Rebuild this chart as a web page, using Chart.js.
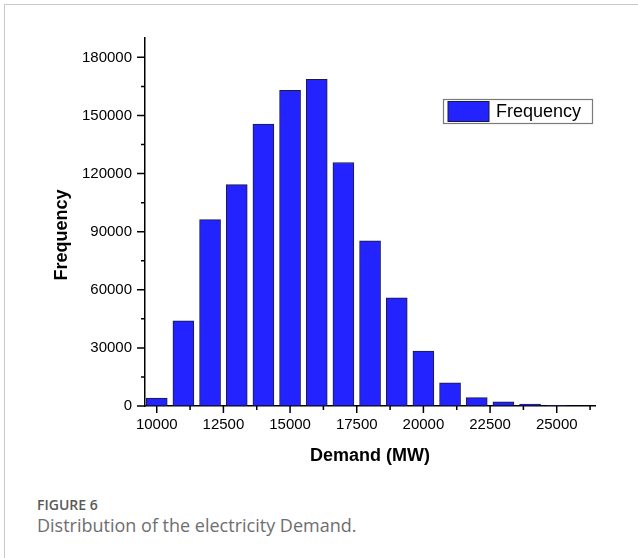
<!DOCTYPE html>
<html>
<head>
<meta charset="utf-8">
<script src="https://cdn.jsdelivr.net/npm/chart.js@4.4.1/dist/chart.umd.min.js"></script>
<style>
  html, body { margin: 0; padding: 0; background: #fff; }
  body { width: 638px; height: 558px; position: relative; overflow: hidden; }
  #frame { position: absolute; left: 4px; top: 4px; width: 634px; height: 554px;
           border-top: 1px solid #c9c9c9; border-left: 1px solid #c9c9c9; box-sizing: border-box; }
  #plot { position: absolute; left: 0; top: 0; }
  #caption { position: absolute; left: 37px; top: 496px; font-family: "Open Sans", sans-serif; color: #666; }
  #caption .num { font-size: 14px; font-weight: 600; color: #5a5a5a; line-height: 18px; }
  #caption .txt { font-size: 18px; line-height: 22px; color: #6e6e6e; }
</style>
</head>
<body>
<div id="frame"></div>
<canvas id="plot" width="638" height="480"></canvas>
<div id="caption">
  <div class="num">FIGURE 6</div>
  <div class="txt">Distribution of the electricity Demand.</div>
</div>
<script>
// Histogram bins (MW, bin centre) and counts
const binCenters = [10000, 11000, 12000, 13000, 14000, 15000, 16000, 17000,
                    18000, 19000, 20000, 21000, 22000, 23000, 24000, 25000];
const frequency  = [4100, 44000, 96200, 114300, 145500, 163000, 168600, 125700,
                    85300, 55900, 28400, 11900, 4300, 2200, 1000, 300];
const seriesLabel = 'Frequency';
const xTitle = 'Demand (MW)';
const yTitle = 'Frequency';

// Axis ranges and tick spacing (labelled ticks every second step)
const xRange = [9560, 26435];
const yRange = [0, 190000];
const xTickStep = 1250;   // labels every 2500
const yTickStep = 15000;  // labels every 30000

const BAR_FILL = '#2323ff';
const BAR_EDGE = '#1b1b3a';
const FONT = '"Liberation Sans", Arial, sans-serif';

function stepTicks(scale, step) {
  const ticks = [];
  for (let v = Math.ceil(scale.min / step) * step; v <= scale.max; v += step) ticks.push({ value: v });
  scale.ticks = ticks;
}

// Short/long outward tick marks on both axes
const tickMarks = {
  id: 'tickMarks',
  afterDraw(chart) {
    const { ctx } = chart;
    const xs = chart.scales.x, ys = chart.scales.y;
    ctx.save();
    ctx.strokeStyle = '#000';
    ctx.lineWidth = 1.5;
    ctx.beginPath();
    ys.ticks.forEach(t => {
      const py = ys.getPixelForValue(t.value);
      const len = t.value % (2 * yTickStep) === 0 ? 8 : 4;
      ctx.moveTo(ys.right - len, py);
      ctx.lineTo(ys.right, py);
    });
    xs.ticks.forEach(t => {
      const px = xs.getPixelForValue(t.value);
      const len = t.value % (2 * xTickStep) === 0 ? 7 : 4;
      ctx.moveTo(px, xs.top);
      ctx.lineTo(px, xs.top + len);
    });
    ctx.stroke();
    ctx.restore();
  }
};

// Rotated y-axis title, centred a little below the middle of the axis
const yAxisTitle = {
  id: 'yAxisTitle',
  afterDraw(chart) {
    const { ctx } = chart;
    const ys = chart.scales.y;
    ctx.save();
    ctx.translate(62, (ys.top + ys.bottom) / 2 + 13);
    ctx.rotate(-Math.PI / 2);
    ctx.fillStyle = '#000';
    ctx.font = 'bold 18px ' + FONT;
    ctx.textAlign = 'center';
    ctx.textBaseline = 'middle';
    ctx.fillText(yTitle, 0, 0);
    ctx.restore();
  }
};

// Boxed legend in the upper right of the plot area
const boxedLegend = {
  id: 'boxedLegend',
  afterDraw(chart) {
    const { ctx, chartArea } = chart;
    const ds = chart.data.datasets[0];
    const w = 149, h = 24;
    const x = chartArea.right - 3 - w;
    const y = chartArea.top + 61;
    ctx.save();
    ctx.fillStyle = '#fff';
    ctx.fillRect(x, y, w, h);
    ctx.strokeStyle = '#7a7a7a';
    ctx.lineWidth = 1.2;
    ctx.strokeRect(x + 0.5, y + 0.5, w, h);
    ctx.fillStyle = ds.backgroundColor;
    ctx.fillRect(x + 5, y + 2.5, 41, 20);
    ctx.strokeStyle = ds.borderColor;
    ctx.lineWidth = 1;
    ctx.strokeRect(x + 5, y + 2.5, 41, 20);
    ctx.fillStyle = '#000';
    ctx.font = '18px ' + FONT;
    ctx.textBaseline = 'middle';
    ctx.fillText(ds.label, x + 53, y + h / 2 + 1);
    ctx.restore();
  }
};

new Chart(document.getElementById('plot'), {
  type: 'bar',
  data: {
    datasets: [{
      label: seriesLabel,
      data: binCenters.map((c, i) => ({ x: c, y: frequency[i] })),
      backgroundColor: BAR_FILL,
      borderColor: BAR_EDGE,
      borderWidth: 1,
      barThickness: 21
    }]
  },
  options: {
    responsive: false,
    animation: false,
    devicePixelRatio: 1,
    layout: { padding: { left: 0, top: 38, right: 43, bottom: 4 } },
    plugins: { legend: { display: false }, tooltip: { enabled: false } },
    scales: {
      x: {
        type: 'linear',
        offset: false,
        min: xRange[0],
        max: xRange[1],
        afterBuildTicks(scale) { stepTicks(scale, xTickStep); },
        afterFit(scale) { scale.height = 70; },
        ticks: {
          autoSkip: false,
          maxRotation: 0,
          padding: 10,
          color: '#000',
          font: { family: FONT, size: 15 },
          callback: v => (v % (2 * xTickStep) === 0 ? String(v) : '')
        },
        grid: { display: true, drawOnChartArea: false, drawTicks: false, offset: false },
        border: { display: true, color: '#000', width: 1.5 },
        title: {
          display: true, text: xTitle, color: '#000',
          font: { family: FONT, size: 18, weight: 'bold' },
          padding: { top: 0, bottom: 9 }
        }
      },
      y: {
        min: yRange[0],
        max: yRange[1],
        afterBuildTicks(scale) { stepTicks(scale, yTickStep); },
        afterFit(scale) { scale.width = 145; },
        ticks: {
          autoSkip: false,
          padding: 13,
          color: '#000',
          font: { family: FONT, size: 15 },
          callback: v => (v % (2 * yTickStep) === 0 ? String(v) : '')
        },
        grid: { display: true, drawOnChartArea: false, drawTicks: false },
        border: { display: true, color: '#000', width: 1.5 },
        title: { display: false }
      }
    }
  },
  plugins: [tickMarks, yAxisTitle, boxedLegend]
});
</script>
</body>
</html>
